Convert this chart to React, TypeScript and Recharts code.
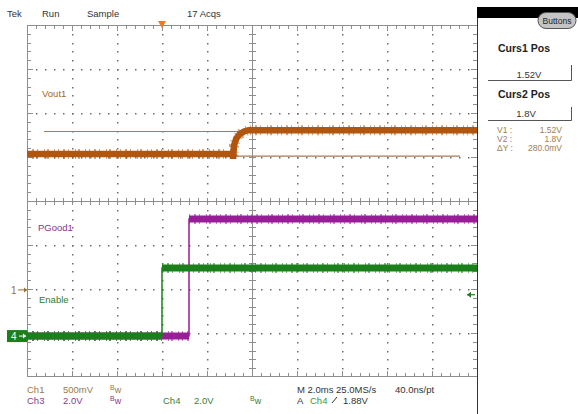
import React from "react";
import { ComposedChart, Line, XAxis, YAxis, ReferenceLine, ReferenceDot } from "recharts";

// time axis in ms: 2.0 ms/div, trigger at 0
const timeDomain = [-6, 14];

// Ch1 - Vout1 (volts, 500 mV/div)
const voutTime = [-6, 3.14, 3.16, 3.2, 3.3, 3.45, 3.65, 3.85, 14];
const voutVolts = [1.545, 1.545, 1.49, 1.64, 1.72, 1.77, 1.8, 1.815, 1.815];

// Ch4 - Enable (volts, 2.0 V/div)
const enableTime = [-6, 0, 0, 14];
const enableVolts = [0, 0, 3.09, 3.09];

// Ch3 - PGood1 (volts, 2.0 V/div)
const pgoodTime = [-6, 1.2, 1.2, 14];
const pgoodVolts = [0, 0, 5.32, 5.32];

// cursors on Ch1
const cursorVolts = [1.52, 1.8];
const cursorSpan = [-5.24, 13.24];
const triggerLevel = 1.88;

// scope settings: volts/div and ground position (divisions from centre)
const ch1Scale = 0.5;
const ch1Position = -2.02;
const ch34Scale = 2;
const ch34Position = -3.07;

const VOUT = "#b0560f";
const PGOOD = "#981e98";
const ENABLE = "#1b801b";
const GRID = "#8e8e8e";
const DOT = "#6c6c6c";
const FONT = "'Liberation Sans', Arial, sans-serif";

// plot box in pixels (10 x 8 divisions)
const PL = 27, PT = 25, PW = 450, PH = 352;

const axisDomain = (scale: number, pos: number) => [(-4 - pos) * scale, (4 - pos) * scale];

const toPoints = (ts: number[], vs: number[]) => ts.map((t, i) => ({ t, v: vs[i] }));
// break the thick band at vertical steps so the edges stay thin
const toBands = (ts: number[], vs: number[]) => {
  const out: { t: number; v: number | null }[] = [];
  ts.forEach((t, i) => {
    if (i > 0 && t === ts[i - 1]) out.push({ t, v: null });
    out.push({ t, v: vs[i] });
  });
  return out;
};

function Graticule() {
  const dx = PW / 10, dy = PH / 8;
  const cx = PL + PW / 2, cy = PT + PH / 2;
  const els: React.ReactElement[] = [];
  // dots along the major lines
  for (let k = 1; k < 10; k++) {
    if (k === 5) continue;
    const x = Math.round(PL + k * dx);
    for (let j = 1; j < 40; j++) {
      const y = Math.round(PT + (j * dy) / 5);
      els.push(<rect key={`vd${k}-${j}`} x={x} y={y} width={1.5} height={1.5} fill={DOT} />);
    }
  }
  for (let k = 1; k < 8; k++) {
    if (k === 4) continue;
    const y = Math.round(PT + k * dy);
    for (let i = 1; i < 50; i++) {
      const x = Math.round(PL + (i * dx) / 5);
      els.push(<rect key={`hd${k}-${i}`} x={x} y={y} width={1.5} height={1.5} fill={DOT} />);
    }
  }
  // minor ticks on the frame and the centre cross
  for (let i = 1; i < 50; i++) {
    const x = Math.round(PL + (i * dx) / 5);
    const len = i % 5 === 0 ? 6 : 4;
    els.push(<rect key={`tt${i}`} x={x} y={PT} width={1} height={len} fill={GRID} />);
    els.push(<rect key={`tb${i}`} x={x} y={PT + PH - len} width={1} height={len} fill={GRID} />);
    els.push(<rect key={`tc${i}`} x={x} y={Math.round(cy) - 3} width={1} height={7} fill={GRID} />);
  }
  for (let j = 1; j < 40; j++) {
    const y = Math.round(PT + (j * dy) / 5);
    const len = j % 5 === 0 ? 6 : 4;
    els.push(<rect key={`tl${j}`} x={PL} y={y} width={len} height={1} fill={GRID} />);
    els.push(<rect key={`tr${j}`} x={PL + PW - len} y={y} width={len} height={1} fill={GRID} />);
    els.push(<rect key={`tm${j}`} x={Math.round(cx) - 3} y={y} width={7} height={1} fill={GRID} />);
  }
  return (
    <svg width={578} height={414} style={{ position: "absolute", left: 0, top: 0 }}>
      {els}
      <rect x={PL} y={PT} width={PW} height={1} fill={GRID} />
      <rect x={PL} y={PT + PH - 1} width={PW} height={1} fill={GRID} />
      <rect x={PL} y={PT} width={1} height={PH} fill={GRID} />
      <rect x={Math.round(cx)} y={PT} width={1} height={PH} fill={GRID} />
      <rect x={PL} y={Math.round(cy)} width={PW} height={1} fill={GRID} />
    </svg>
  );
}

const Bw = ({ x, y, fill }: { x: number; y: number; fill: string }) => (
  <text x={x} y={y} fill={fill} fontSize={9}>
    <tspan fontSize={7} dy={-3}>B</tspan>
    <tspan dy={3}>w</tspan>
  </text>
);

const noise = "1 4 2 3 1 6 1 2 2 5 1 3";

export default function App() {
  return (
    <div style={{ position: "absolute", left: 0, top: 0, width: 578, height: 414, background: "#fff", overflow: "hidden", fontFamily: FONT }}>
      <Graticule />
      <ComposedChart width={578} height={414} margin={{ top: PT, right: 578 - PL - PW, bottom: 414 - PT - PH, left: PL }} style={{ position: "absolute", left: 0, top: 0 }}>
        <XAxis type="number" dataKey="t" domain={timeDomain} hide allowDataOverflow />
        <YAxis yAxisId="div" type="number" domain={[-4, 4]} hide allowDataOverflow />
        <YAxis yAxisId="ch1" type="number" domain={axisDomain(ch1Scale, ch1Position)} hide allowDataOverflow />
        <YAxis yAxisId="ch34" type="number" domain={axisDomain(ch34Scale, ch34Position)} hide allowDataOverflow />
        {cursorVolts.map((v) => (
          <ReferenceLine key={`cur${v}`} yAxisId="ch1" stroke="#a87a4e" strokeWidth={1.2}
            segment={[{ x: cursorSpan[0], y: v }, { x: cursorSpan[1], y: v }]} />
        ))}
        <Line data={toPoints(pgoodTime, pgoodVolts)} dataKey="v" yAxisId="ch34" stroke={PGOOD} strokeWidth={1.5} dot={false} isAnimationActive={false} />
        <Line data={toBands(pgoodTime, pgoodVolts)} dataKey="v" yAxisId="ch34" stroke={PGOOD} strokeWidth={10} strokeOpacity={0.55} strokeDasharray={noise} dot={false} isAnimationActive={false} />
        <Line data={toBands(pgoodTime, pgoodVolts)} dataKey="v" yAxisId="ch34" stroke={PGOOD} strokeWidth={7} dot={false} isAnimationActive={false} />
        <Line data={toPoints(enableTime, enableVolts)} dataKey="v" yAxisId="ch34" stroke={ENABLE} strokeWidth={1.5} dot={false} isAnimationActive={false} />
        <Line data={toBands(enableTime, enableVolts)} dataKey="v" yAxisId="ch34" stroke={ENABLE} strokeWidth={10} strokeOpacity={0.55} strokeDasharray={noise} dot={false} isAnimationActive={false} />
        <Line data={toBands(enableTime, enableVolts)} dataKey="v" yAxisId="ch34" stroke={ENABLE} strokeWidth={7} dot={false} isAnimationActive={false} />
        <Line data={toPoints(voutTime, voutVolts)} dataKey="v" yAxisId="ch1" stroke={VOUT} strokeWidth={10} strokeOpacity={0.55} strokeDasharray={noise} dot={false} isAnimationActive={false} />
        <Line data={toPoints(voutTime, voutVolts)} dataKey="v" yAxisId="ch1" stroke={VOUT} strokeWidth={6.5} dot={false} isAnimationActive={false} />
        {/* trigger position */}
        <ReferenceDot x={0} y={4} yAxisId="div" r={0} shape={(p: any) => (
          <polygon points={`${p.cx - 4},${p.cy - 4} ${p.cx + 4},${p.cy - 4} ${p.cx},${p.cy + 3}`} fill="#f07a22" />
        )} />
        {/* Ch1 ground marker */}
        <ReferenceDot x={-6} y={0} yAxisId="ch1" r={0} shape={(p: any) => (
          <g>
            <text x={p.cx - 16} y={p.cy + 4} fontSize={10} fill="#9c6a2c" fontFamily={FONT}>1</text>
            <line x1={p.cx - 9} y1={p.cy} x2={p.cx} y2={p.cy} stroke="#9c6a2c" />
            <polygon points={`${p.cx - 3},${p.cy - 2.5} ${p.cx},${p.cy} ${p.cx - 3},${p.cy + 2.5}`} fill="#9c6a2c" />
          </g>
        )} />
        {/* Ch4 ground marker */}
        <ReferenceDot x={-6} y={0} yAxisId="ch34" r={0} shape={(p: any) => (
          <g>
            <rect x={p.cx - 20} y={p.cy - 6} width={20} height={12} fill={ENABLE} />
            <text x={p.cx - 16} y={p.cy + 4} fontSize={10} fill="#fff" fontFamily={FONT}>4</text>
            <line x1={p.cx - 8} y1={p.cy} x2={p.cx - 1} y2={p.cy} stroke="#fff" />
            <polygon points={`${p.cx - 4},${p.cy - 2.5} ${p.cx - 1},${p.cy} ${p.cx - 4},${p.cy + 2.5}`} fill="#fff" />
          </g>
        )} />
        {/* trigger level */}
        <ReferenceDot x={14} y={triggerLevel} yAxisId="ch34" r={0} shape={(p: any) => (
          <g>
            <line x1={p.cx - 10} y1={p.cy} x2={p.cx - 2} y2={p.cy} stroke={ENABLE} strokeWidth={1.2} />
            <polygon points={`${p.cx - 10},${p.cy} ${p.cx - 6},${p.cy - 3} ${p.cx - 6},${p.cy + 3}`} fill={ENABLE} />
          </g>
        )} />
      </ComposedChart>

      <svg width={578} height={414} style={{ position: "absolute", left: 0, top: 0, pointerEvents: "none" }} fontFamily={FONT}>
        {/* header */}
        <g fontSize={9.5} fill="#333">
          <text x={7} y={17}>Tek</text>
          <text x={42} y={17}>Run</text>
          <text x={87} y={17}>Sample</text>
          <text x={187} y={17}>17 Acqs</text>
        </g>
        {/* trace labels */}
        <text x={42} y={97} fontSize={9.5} fill="#a8652a">Vout1</text>
        <text x={38} y={231} fontSize={9.5} fill="#8d2f8d">PGood1</text>
        <text x={39} y={303} fontSize={9.5} fill="#2e7d2e">Enable</text>

        {/* right panel */}
        <line x1={477.5} y1={7} x2={477.5} y2={414} stroke="#333" />
        <rect x={477} y={7} width={101} height={11} fill="#000" />
        <rect x={538} y={12.5} width={38} height={16} rx={8} fill="#c4c4c4" stroke="#555" />
        <text x={557} y={24} fontSize={8.5} fill="#222" textAnchor="middle">Buttons</text>

        <text x={524} y={52} fontSize={10.5} fontWeight="bold" fill="#222" textAnchor="middle">Curs1 Pos</text>
        <text x={529} y={78} fontSize={9.5} fill="#333" textAnchor="middle">1.52V</text>
        <polyline points="488,80.5 571.5,80.5 571.5,65" fill="none" stroke="#555" />
        <text x={524} y={98} fontSize={10.5} fontWeight="bold" fill="#222" textAnchor="middle">Curs2 Pos</text>
        <text x={526} y={117} fontSize={9.5} fill="#333" textAnchor="middle">1.8V</text>
        <polyline points="488,120.5 571.5,120.5 571.5,107" fill="none" stroke="#555" />

        <g fontSize={8.5} fill="#a0804e">
          <text x={497} y={133}>V1 :</text>
          <text x={562} y={133} textAnchor="end">1.52V</text>
          <text x={497} y={142}>V2 :</text>
          <text x={562} y={142} textAnchor="end">1.8V</text>
          <text x={497} y={151}>ΔY :</text>
          <text x={562} y={151} textAnchor="end">280.0mV</text>
        </g>

        {/* footer */}
        <g fontSize={9.5}>
          <text x={27} y={393} fill="#9c7a44">Ch1</text>
          <text x={63} y={393} fill="#9c7a44">500mV</text>
          <text x={27} y={404} fill="#8d3a8d">Ch3</text>
          <text x={63} y={404} fill="#8d3a8d">2.0V</text>
          <text x={163} y={404} fill="#3a7f3a">Ch4</text>
          <text x={194} y={404} fill="#3a7f3a">2.0V</text>
          <text x={297} y={393} fill="#333">M 2.0ms 25.0MS/s</text>
          <text x={395} y={393} fill="#333">40.0ns/pt</text>
          <text x={297} y={404} fill="#333">A</text>
          <text x={310} y={404} fill="#3a9a3a">Ch4</text>
          <text x={343} y={404} fill="#333">1.88V</text>
        </g>
        <line x1={332} y1={403} x2={337} y2={397} stroke="#333" />
        <Bw x={110} y={393} fill="#9c7a44" />
        <Bw x={110} y={404} fill="#8d3a8d" />
        <Bw x={250} y={404} fill="#3a7f3a" />
      </svg>
    </div>
  );
}
